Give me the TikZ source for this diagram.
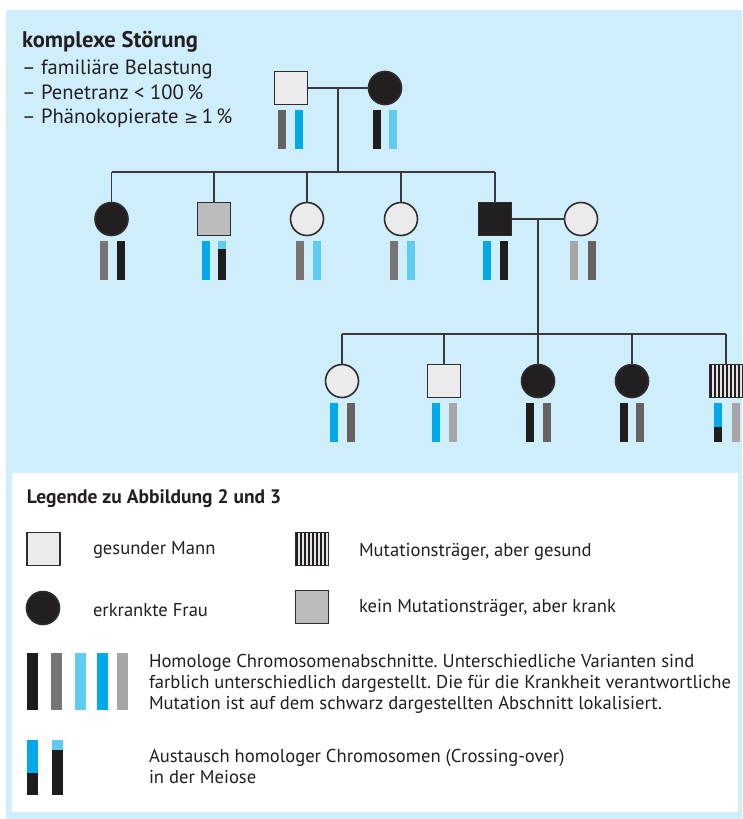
\documentclass[tikz,border=0pt]{standalone}
\usepackage{fontspec}
\setmainfont{PT Sans}
\newfontfamily\symfont{DejaVu Sans}
\usetikzlibrary{calc}
\frenchspacing

\definecolor{bgblue}{HTML}{CDEEFA}
\definecolor{symfill}{HTML}{EBEBEB}
\definecolor{symgrey}{HTML}{BCBCBC}
\definecolor{symblack}{HTML}{231F20}
\definecolor{outline}{HTML}{2E2C2C}
\definecolor{linecol}{HTML}{3A3838}
\definecolor{textcol}{HTML}{231F20}
\definecolor{chblack}{HTML}{1F1C1D}
\definecolor{chdark}{HTML}{67625F}
\definecolor{chmid}{HTML}{787473}
\definecolor{chlight}{HTML}{A8A5A5}
\definecolor{chblue}{HTML}{00A9EA}
\definecolor{chlblue}{HTML}{5FCAF2}
\definecolor{stripebg}{HTML}{E4E4E4}

% one chromosome bar under a person: node, x offset of left edge, colour
\newcommand\chbar[3]{\fill[#3] ($(#1.south)+(#2,5)$) rectangle ++(8,39);}
% bar with exchanged segment: node, x offset, top colour, top length, bottom colour
\newcommand\chcross[5]{%
  \fill[#3] ($(#1.south)+(#2,5)$) rectangle ++(8,#4);
  \fill[#5] ($(#1.south)+(#2,5+#4)$) rectangle ++(8,39-#4);}

\tikzset{
  person/.style={draw=outline, line width=1.6pt, minimum size=33pt, inner sep=0pt, outer sep=0pt},
  male/.style={person, rectangle},
  female/.style={person, circle},
  healthy/.style={fill=symfill},
  ill/.style={fill=symblack},
  sickgrey/.style={fill=symgrey},
  carrier/.style={fill=stripebg, path picture={
      \foreach \k in {0,...,8}
        \fill[symblack] ([xshift=\k*4pt+0.8pt]path picture bounding box.north west)
          rectangle ([xshift=\k*4pt+2.6pt]path picture bounding box.south west);}},
  link/.style={draw=linecol, line width=1.4pt},
  txt/.style={anchor=base west, inner sep=0pt, outer sep=0pt, text=textcol},
  toptxt/.style={txt, font=\fontsize{20.6}{24}\selectfont},
  legtxt/.style={txt, font=\fontsize{18.6}{21}\selectfont},
}

\begin{document}
\begin{tikzpicture}[x=1pt, y=-1pt]
\useasboundingbox (0,0) rectangle (742,819);

% backgrounds
\fill[bgblue] (6,10) rectangle (742,819);
\fill[white] (12,473) rectangle (738,812);

% heading
\node[txt, font=\fontsize{22.6}{26}\selectfont\bfseries] (title) at (22,47) {komplexe Störung};
\node[toptxt] (l1) at (22,74) {– familiäre Belastung};
\node[toptxt] (l2) at (22,99) {– Penetranz < 100\,\%};
\node[toptxt] (l3) at (22,123) {– Phänokopierate {\symfont\fontsize{17}{20}\selectfont ≥}\,1\,\%};

% generation I
\node[male, healthy] (f) at (291,88) {};
\node[female, ill] (m) at (385,88) {};
\chbar{f}{-13}{chdark} \chbar{f}{4}{chblue}
\chbar{m}{-12}{chblack} \chbar{m}{4}{chlblue}

% generation II
\node[female, ill] (d1) at (111.5,219) {};
\node[male, sickgrey] (s2) at (214,219) {};
\node[female, healthy] (d3) at (307,219) {};
\node[female, healthy] (d4) at (401,219) {};
\node[male, ill] (s5) at (495,219) {};
\node[female, healthy] (sp) at (581,219) {};
\chbar{d1}{-12}{chmid} \chbar{d1}{5}{chblack}
\chbar{s2}{-12}{chblue} \chcross{s2}{4}{chlblue}{8}{chblack}
\chbar{d3}{-11}{chmid} \chbar{d3}{6}{chlblue}
\chbar{d4}{-11}{chmid} \chbar{d4}{6}{chlblue}
\chbar{s5}{-12}{chblue} \chbar{s5}{5}{chblack}
\chbar{sp}{-11}{chlight} \chbar{sp}{7}{chdark}

% generation III
\node[female, healthy] (g1) at (342,381) {};
\node[male, healthy] (g2) at (444,381) {};
\node[female, ill] (g3) at (538,381) {};
\node[female, ill] (g4) at (632,381) {};
\node[male, carrier] (g5) at (726,381) {};
\chbar{g1}{-12}{chblue} \chbar{g1}{5}{chdark}
\chbar{g2}{-12}{chblue} \chbar{g2}{5}{chlight}
\chbar{g3}{-12}{chblack} \chbar{g3}{5}{chdark}
\chbar{g4}{-12}{chblack} \chbar{g4}{4}{chdark}
\chcross{g5}{-12}{chblue}{24}{chblack} \chbar{g5}{6}{chlight}

% connectors
\draw[link] (f.east) -- (m.west);
\coordinate (c1) at ($(f.east)!0.5!(m.west)$);
\coordinate (sib1) at ($(c1)+(0,84)$);
\draw[link] (c1) -- (sib1);
\draw[link] (d1.north |- sib1) -- (s5.north |- sib1);
\foreach \p in {d1,s2,d3,d4,s5} \draw[link] (\p.north |- sib1) -- (\p.north);

\draw[link] (s5.east) -- (sp.west);
\coordinate (c2) at ($(s5.east)!0.5!(sp.west)$);
\coordinate (sib2) at ($(c2)+(0,115)$);
\draw[link] (c2) -- (sib2);
\draw[link] (g1.north |- sib2) -- (g5.north |- sib2);
\foreach \p in {g1,g2,g3,g4,g5} \draw[link] (\p.north |- sib2) -- (\p.north);

% legend
\node[txt, font=\fontsize{19.5}{22}\selectfont\bfseries] (legtitle) at (27,503) {Legende zu Abbildung 2 und 3};

\node[male, healthy] (lsq) at (43.5,549) {};
\node[legtxt] (lsqt) at (93,554) {gesunder Mann};
\node[female, ill] (lci) at (43,608) {};
\node[legtxt] (lcit) at (93,616) {erkrankte Frau};
\node[male, carrier] (lst) at (312,549) {};
\node[legtxt] (lstt) at (359,556) {Mutationsträger, aber gesund};
\node[male, sickgrey] (lgr) at (312,607) {};
\node[legtxt] (lgrt) at (359,612) {kein Mutationsträger, aber krank};

\fill[chblack] (27,653) rectangle ++(11,57);
\fill[chmid] (51,653) rectangle ++(11,57);
\fill[chlblue] (75,653) rectangle ++(11,57);
\fill[chblue] (97,653) rectangle ++(11,57);
\fill[chlight] (117,653) rectangle ++(11,57);
\node[legtxt] (hom1) at (149,667) {Homologe Chromosomenabschnitte. Unterschiedliche Varianten sind};
\node[legtxt] (hom2) at (149,688) {farblich unterschiedlich dargestellt. Die für die Krankheit verantwortliche};
\node[legtxt] (hom3) at (149,709) {Mutation ist auf dem schwarz dargestellten Abschnitt lokalisiert.};

\fill[chblue] (27,740) rectangle ++(11,33);
\fill[chblack] (27,773) rectangle ++(11,22);
\fill[chlblue] (52,740) rectangle ++(11,10);
\fill[chblack] (52,750) rectangle ++(11,45);
\node[legtxt] (co1) at (149,762) {Austausch homologer Chromosomen (Crossing-over)};
\node[legtxt] (co2) at (149,783) {in der Meiose};
\end{tikzpicture}
\end{document}
